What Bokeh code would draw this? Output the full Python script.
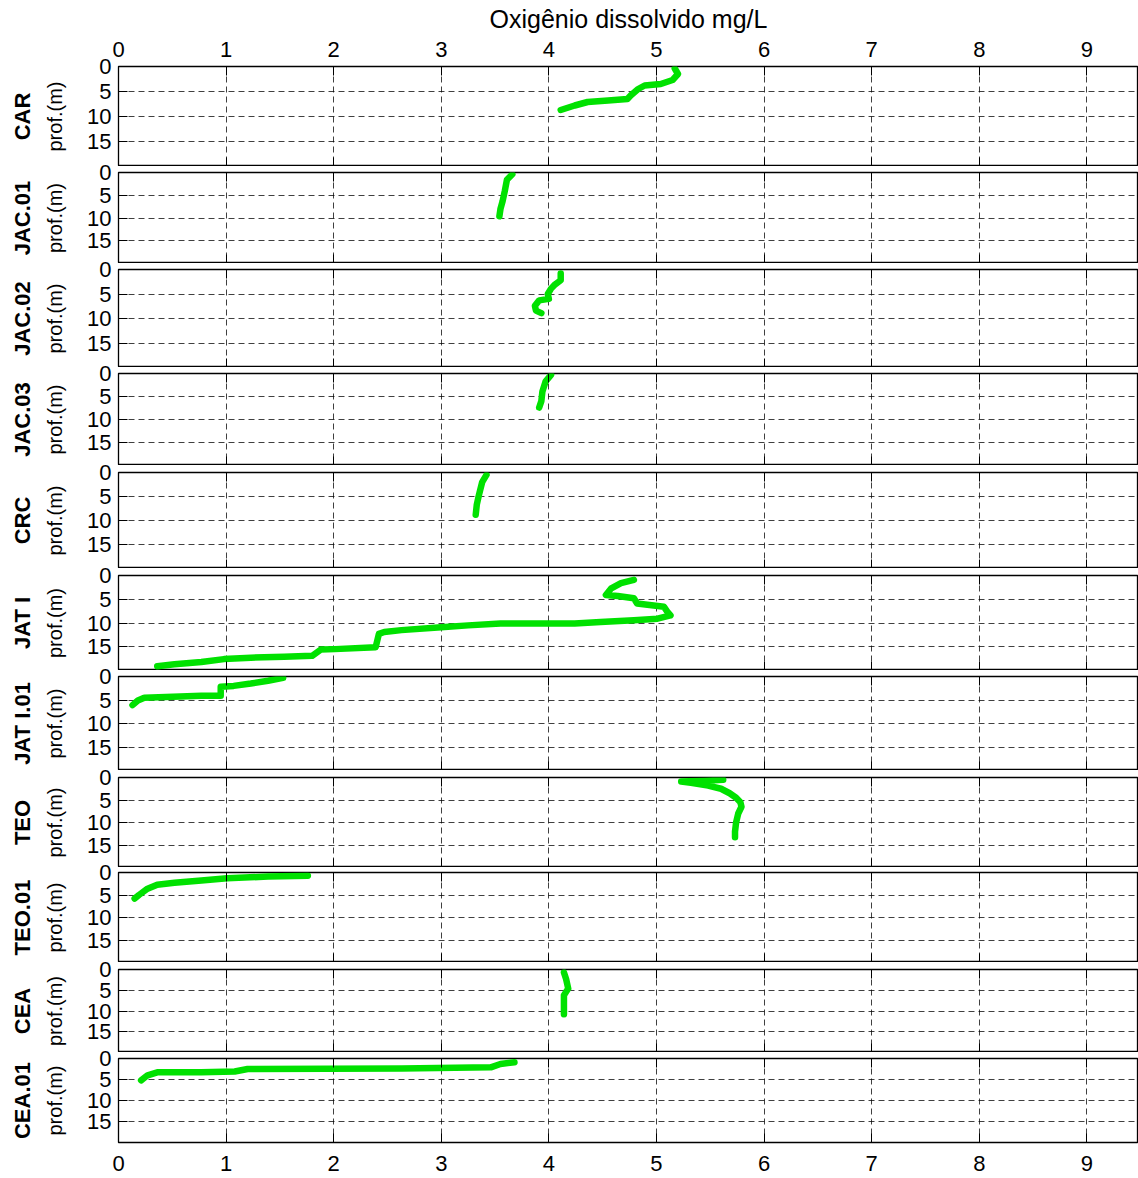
from bokeh.plotting import figure
from bokeh.models import Range1d, FixedTicker, LinearAxis, Title
from bokeh.layouts import column
from bokeh.embed import file_html
from bokeh.resources import INLINE

# ---------------- data ----------------
stations = ["CAR", "JAC.01", "JAC.02", "JAC.03", "CRC", "JAT I", "JAT I.01",
            "TEO", "TEO.01", "CEA", "CEA.01"]

car_do = [5.17, 5.20, 5.15, 5.04, 4.89, 4.83, 4.76, 4.73, 4.55, 4.36, 4.24, 4.11]
car_depth = [0.4, 1.5, 2.7, 3.5, 3.8, 4.5, 5.8, 6.5, 6.8, 7.1, 7.8, 8.7]

jac01_do = [3.66, 3.61, 3.59, 3.57, 3.55, 3.54]
jac01_depth = [0.4, 1.6, 4.1, 6.3, 8.0, 9.6]

jac02_do = [4.11, 4.11, 4.05, 4.02, 3.99, 4.00, 3.91, 3.87, 3.88, 3.93]
jac02_depth = [0.8, 2.2, 3.2, 3.9, 5.0, 6.0, 6.3, 7.4, 8.4, 8.9]

jac03_do = [4.02, 3.97, 3.94, 3.93, 3.91]
jac03_depth = [0.3, 1.7, 3.9, 6.0, 7.4]

crc_do = [3.42, 3.38, 3.35, 3.33, 3.32]
crc_depth = [0.5, 2.0, 4.7, 6.7, 8.8]

jati_do = [4.79, 4.67, 4.58, 4.53, 4.64, 4.79, 4.82, 5.07, 5.10, 5.13, 5.01, 4.79,
           4.48, 4.24, 3.55, 3.25, 3.00, 2.63, 2.47, 2.42, 2.39, 2.01, 1.88, 1.80,
           1.54, 1.23, 0.98, 0.77, 0.52, 0.36]
jati_depth = [0.9, 1.6, 2.7, 4.1, 4.3, 4.8, 5.9, 6.6, 7.6, 8.4, 9.1, 9.4,
              9.8, 10.1, 10.1, 10.5, 10.9, 11.5, 11.9, 12.3, 15.1, 15.5, 15.6, 16.9,
              17.1, 17.3, 17.6, 18.2, 18.7, 19.1]

jati01_do = [1.53, 1.39, 1.23, 1.07, 0.95, 0.95, 0.77, 0.24, 0.18, 0.13]
jati01_depth = [0.3, 0.9, 1.5, 2.0, 2.2, 4.1, 4.1, 4.5, 5.1, 6.1]

teo_do = [5.62, 5.45, 5.23, 5.32, 5.48, 5.60, 5.68, 5.74, 5.78, 5.79, 5.76, 5.74, 5.73, 5.73]
teo_depth = [0.5, 0.7, 0.9, 1.2, 1.8, 2.5, 3.5, 4.5, 5.5, 6.5, 8.0, 10.0, 12.0, 13.3]

teo01_do = [1.76, 1.39, 1.01, 0.77, 0.52, 0.36, 0.27, 0.19, 0.15]
teo01_depth = [0.7, 0.9, 1.3, 1.8, 2.3, 2.7, 3.6, 5.0, 5.8]

cea_do = [4.14, 4.16, 4.18, 4.14, 4.14]
cea_depth = [0.7, 2.3, 4.6, 6.2, 10.8]

cea01_do = [3.68, 3.55, 3.46, 2.63, 1.20, 1.08, 0.77, 0.36, 0.27, 0.21]
cea01_depth = [0.9, 1.3, 2.1, 2.4, 2.5, 3.1, 3.3, 3.3, 4.0, 5.2]

x_ticks = [0, 1, 2, 3, 4, 5, 6, 7, 8, 9]
y_ticks = [0, 5, 10, 15]
x_title = "Oxigênio dissolvido mg/L"
y_title = "prof.(m)"

profiles = [(car_do, car_depth), (jac01_do, jac01_depth), (jac02_do, jac02_depth),
            (jac03_do, jac03_depth), (crc_do, crc_depth), (jati_do, jati_depth),
            (jati01_do, jati01_depth), (teo_do, teo_depth), (teo01_do, teo01_depth),
            (cea_do, cea_depth), (cea01_do, cea01_depth)]

# ---------------- layout ----------------
FONT = "Liberation Sans"
frame_heights = [100, 91, 98, 92, 96, 95, 94, 90, 90, 83, 84]
top_gaps = [66, 6, 6, 6, 7, 7, 6, 7, 5, 7, 6]
OVERLAP = 12
GREEN = "#00e100"

figs = []
n = len(stations)
for i, (name, (xs, ys)) in enumerate(zip(stations, profiles)):
    first = i == 0
    last = i == n - 1
    extra = 0 if first else OVERLAP
    p = figure(frame_width=1020, frame_height=frame_heights[i],
               min_border_left=118, min_border_right=0,
               min_border_top=top_gaps[i] + extra, min_border_bottom=36 if last else 0,
               x_range=Range1d(0, 9.48), y_range=Range1d(20, 0),
               x_axis_location=None, y_axis_location="left",
               toolbar_location=None, output_backend="svg",
               background_fill_color="white", border_fill_color=None,
               margin=(-extra, 0, 0, 0))
    p.outline_line_color = "black"
    p.outline_line_width = 1.3

    # y axis
    ya = p.yaxis[0]
    ya.ticker = FixedTicker(ticks=y_ticks)
    ya.major_tick_in = 9
    ya.major_tick_out = 0
    ya.minor_tick_line_color = None
    ya.axis_line_color = None
    ya.major_label_standoff = 7
    ya.major_label_text_font = FONT
    ya.major_label_text_font_size = "22px"
    ya.major_label_text_color = "black"
    ya.axis_label = y_title
    ya.axis_label_text_font = FONT
    ya.axis_label_text_font_size = "20px"
    ya.axis_label_text_font_style = "normal"
    ya.axis_label_text_color = "black"
    ya.axis_label_standoff = 18

    # top & bottom axes (ticks inside)
    for loc in ("above", "below"):
        show = (loc == "above" and first) or (loc == "below" and last)
        ax = LinearAxis(ticker=FixedTicker(ticks=x_ticks))
        ax.major_tick_in = 9
        ax.major_tick_out = 0
        ax.minor_tick_line_color = None
        ax.axis_line_color = None
        ax.major_label_text_font = FONT
        if show:
            ax.major_label_text_font_size = "22px"
            ax.major_label_text_color = "black"
            ax.major_label_standoff = 10 if loc == "above" else 13
        else:
            ax.major_label_text_font_size = "1px"
            ax.major_label_text_color = None
            ax.major_label_standoff = 0
        if loc == "above" and first:
            ax.axis_label = x_title
            ax.axis_label_text_font = FONT
            ax.axis_label_text_font_size = "25px"
            ax.axis_label_text_font_style = "normal"
            ax.axis_label_text_color = "black"
            ax.axis_label_standoff = 6
        p.add_layout(ax, loc)

    # grids
    p.xgrid.ticker = FixedTicker(ticks=x_ticks)
    p.ygrid.ticker = FixedTicker(ticks=y_ticks)
    for g in (p.xgrid, p.ygrid):
        g.grid_line_color = "black"
        g.grid_line_alpha = 0.75
        g.grid_line_dash = "6 4"
        g.grid_line_width = 1

    # station title
    p.add_layout(Title(text=name, align="center", text_font=FONT,
                       text_font_size="22px", text_font_style="bold",
                       text_color="black", standoff=13), "left")

    p.line(xs, ys, line_color=GREEN, line_width=6.5, line_join="round", line_cap="round")
    figs.append(p)

layout = column(*figs, spacing=0)
open("out.html", "w").write(file_html(layout, INLINE))
